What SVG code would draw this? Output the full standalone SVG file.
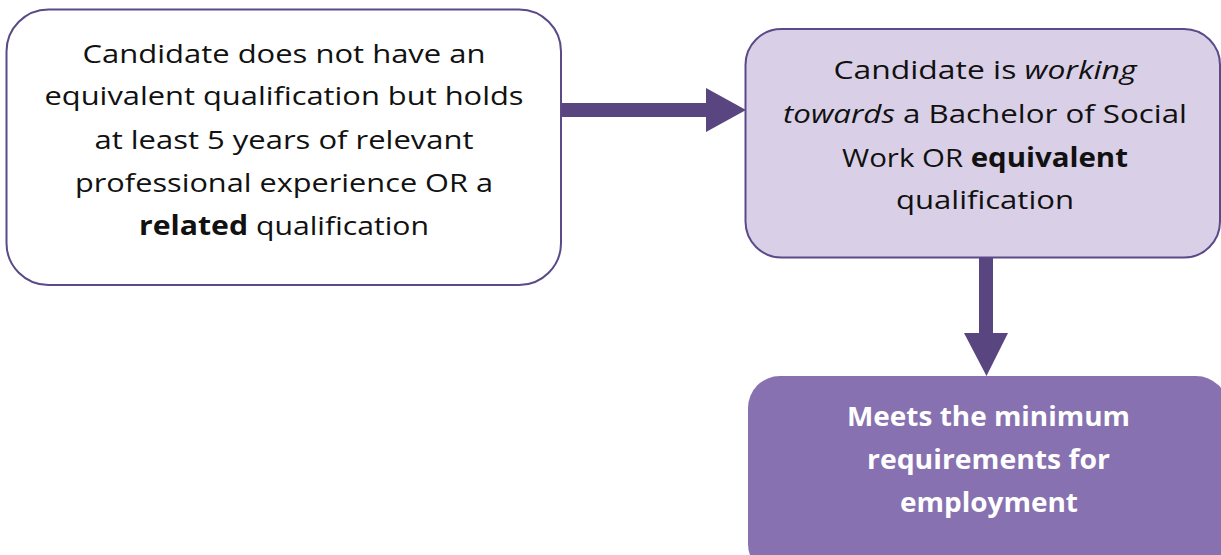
<svg xmlns="http://www.w3.org/2000/svg" width="1221" height="555" viewBox="0 0 1221 555">
  <style>
    .box-start { fill: #ffffff; stroke: #5b4a88; stroke-width: 2; }
    .box-mid { fill: #d9d0e7; stroke: #5b4a88; stroke-width: 2; }
    .box-end { fill: #8771b0; }
    .arrow { fill: #59457f; }
    .label { font-family: "Open Sans", "Liberation Sans", sans-serif; font-size: 26px; fill: #111111; text-anchor: middle; }
    .label-end { font-family: "Open Sans", "Liberation Sans", sans-serif; font-size: 26px; font-weight: bold; fill: #ffffff; text-anchor: middle; }
    .b { font-weight: bold; }
    .i { font-style: italic; }
  </style>

  <!-- flow connectors: block arrows -->
  <g id="connectors">
    <polygon class="arrow" points="561,103 706,103 706,88 746,110 706,132 706,117 561,117"/>
    <polygon class="arrow" points="979,258 993,258 993,333 1008,333 986.5,376 964,333 979,333"/>
  </g>

  <!-- starting condition -->
  <g id="node-experience">
    <rect class="box-start" x="6.5" y="9.5" width="554.5" height="275.5" rx="42" ry="42"/>
    <text class="label" x="284" y="62.5" textLength="403" lengthAdjust="spacingAndGlyphs">Candidate does not have an</text>
    <text class="label" x="284" y="105" textLength="479" lengthAdjust="spacingAndGlyphs">equivalent qualification but holds</text>
    <text class="label" x="284" y="148.5" textLength="379" lengthAdjust="spacingAndGlyphs">at least 5 years of relevant</text>
    <text class="label" x="284" y="192" textLength="418" lengthAdjust="spacingAndGlyphs">professional experience OR a</text>
    <text class="label" x="284" y="235" textLength="290" lengthAdjust="spacingAndGlyphs"><tspan class="b">related</tspan> qualification</text>
  </g>

  <!-- study in progress -->
  <g id="node-studying">
    <rect class="box-mid" x="745.5" y="29" width="474.5" height="228.5" rx="36" ry="36"/>
    <text class="label" x="985" y="79" textLength="303" lengthAdjust="spacingAndGlyphs">Candidate is <tspan class="i">working</tspan></text>
    <text class="label" x="985" y="122.5" textLength="404" lengthAdjust="spacingAndGlyphs"><tspan class="i">towards</tspan> a Bachelor of Social</text>
    <text class="label" x="985" y="166.5" textLength="286" lengthAdjust="spacingAndGlyphs">Work OR <tspan class="b">equivalent</tspan></text>
    <text class="label" x="985" y="209" textLength="178" lengthAdjust="spacingAndGlyphs">qualification</text>
  </g>

  <!-- outcome -->
  <g id="node-outcome">
    <rect class="box-end" x="748" y="376" width="480" height="200" rx="32" ry="32"/>
    <text class="label-end" x="988.5" y="426" textLength="283" lengthAdjust="spacingAndGlyphs">Meets the minimum</text>
    <text class="label-end" x="988.5" y="469" textLength="243" lengthAdjust="spacingAndGlyphs">requirements for</text>
    <text class="label-end" x="989" y="511.5" textLength="178" lengthAdjust="spacingAndGlyphs">employment</text>
  </g>
</svg>
